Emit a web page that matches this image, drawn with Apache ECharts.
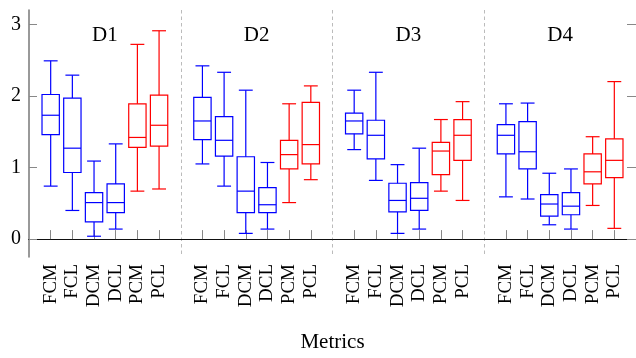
<!DOCTYPE html>
<html>
<head>
<meta charset="utf-8">
<script src="https://cdn.jsdelivr.net/npm/echarts@6/dist/echarts.min.js"></script>
<style>
html,body{margin:0;padding:0;background:#fff;}
#chart{width:636px;height:358px;}
</style>
</head>
<body>
<div id="chart"></div>
<script>
// ---- data ----
const groupNames = ['D1', 'D2', 'D3', 'D4'];
const metricNames = ['FCM', 'FCL', 'DCM', 'DCL', 'PCM', 'PCL'];
const yTickValues = [0, 1, 2, 3];
const xTitle = 'Metrics';
// each box: [lower whisker, Q1, median, Q3, upper whisker]
const boxesD1 = [
  [0.74, 1.46, 1.73, 2.02, 2.49],
  [0.40, 0.93, 1.27, 1.97, 2.29],
  [0.04, 0.24, 0.51, 0.65, 1.09],
  [0.14, 0.37, 0.51, 0.77, 1.33],
  [0.67, 1.28, 1.42, 1.89, 2.72],
  [0.70, 1.30, 1.59, 2.01, 2.91]
];
const boxesD2 = [
  [1.05, 1.39, 1.65, 1.98, 2.42],
  [0.74, 1.16, 1.38, 1.71, 2.33],
  [0.08, 0.37, 0.67, 1.15, 2.08],
  [0.14, 0.37, 0.48, 0.72, 1.07],
  [0.51, 0.98, 1.18, 1.38, 1.89],
  [0.83, 1.05, 1.32, 1.91, 2.14]
];
const boxesD3 = [
  [1.25, 1.47, 1.65, 1.76, 2.08],
  [0.82, 1.12, 1.45, 1.66, 2.33],
  [0.08, 0.38, 0.54, 0.78, 1.04],
  [0.14, 0.40, 0.57, 0.79, 1.27],
  [0.67, 0.90, 1.23, 1.35, 1.67],
  [0.54, 1.10, 1.45, 1.67, 1.92]
];
const boxesD4 = [
  [0.59, 1.19, 1.45, 1.60, 1.89],
  [0.56, 0.98, 1.22, 1.64, 1.90],
  [0.20, 0.32, 0.49, 0.62, 0.92],
  [0.14, 0.34, 0.46, 0.65, 0.98],
  [0.47, 0.77, 0.94, 1.19, 1.43],
  [0.15, 0.86, 1.10, 1.40, 2.20]
];
const boxColors = ['#0000ff', '#0000ff', '#0000ff', '#0000ff', '#ff0000', '#ff0000'];
const groupLabelY = 2.845;

// ---- build category axis & series data ----
const allGroups = [boxesD1, boxesD2, boxesD3, boxesD4];
const categories = [''];
const blueData = [], redData = [], labelData = [];
allGroups.forEach((g, gi) => {
  const start = categories.length;
  g.forEach((b, mi) => {
    const idx = categories.length;
    categories.push(metricNames[mi]);
    const item = [idx].concat(b);
    (boxColors[mi] === '#ff0000' ? redData : blueData).push(item);
  });
  labelData.push([start, start + metricNames.length - 1, groupLabelY, groupNames[gi]]);
  categories.push('');
});
const separators = [];
categories.forEach((c, i) => { if (c === '' && i > 0 && i < categories.length - 1) separators.push(i); });

function boxRenderer(color) {
  return function (params, api) {
    const x = api.value(0);
    const lo = api.coord([x, api.value(1)]);
    const q1 = api.coord([x, api.value(2)]);
    const md = api.coord([x, api.value(3)]);
    const q3 = api.coord([x, api.value(4)]);
    const hi = api.coord([x, api.value(5)]);
    const band = api.coord([x + 1, api.value(1)])[0] - lo[0];
    const bw = band * 0.8, cw = band * 0.64;
    const cx = lo[0];
    const st = { stroke: color, lineWidth: 1.2, fill: null };
    return {
      type: 'group',
      children: [
        { type: 'rect', shape: { x: cx - bw / 2, y: q3[1], width: bw, height: q1[1] - q3[1] }, style: { stroke: color, lineWidth: 1.2, fill: 'rgba(255,255,255,0)' } },
        { type: 'line', shape: { x1: cx - bw / 2, y1: md[1], x2: cx + bw / 2, y2: md[1] }, style: st },
        { type: 'line', shape: { x1: cx, y1: q1[1], x2: cx, y2: lo[1] }, style: st },
        { type: 'line', shape: { x1: cx, y1: q3[1], x2: cx, y2: hi[1] }, style: st },
        { type: 'line', shape: { x1: cx - cw / 2, y1: lo[1], x2: cx + cw / 2, y2: lo[1] }, style: st },
        { type: 'line', shape: { x1: cx - cw / 2, y1: hi[1], x2: cx + cw / 2, y2: hi[1] }, style: st }
      ]
    };
  };
}

const font = 'Liberation Serif';
const chart = echarts.init(document.getElementById('chart'), null, { renderer: 'canvas' });
chart.setOption({
  animation: false,
  backgroundColor: '#fff',
  grid: { left: 29, right: -6, top: 10, bottom: 88, containLabel: false },
  xAxis: [{
    type: 'category',
    data: categories,
    boundaryGap: false,
    name: xTitle,
    nameLocation: 'middle',
    nameGap: 75,
    nameTextStyle: { fontFamily: font, fontSize: 21, color: '#000' },
    axisLine: { show: true, lineStyle: { color: '#222', width: 1 } },
    axisTick: { show: true, inside: true, length: 9, lineStyle: { color: '#888' }, interval: (i) => categories[i] !== '' },
    axisLabel: { interval: 0, rotate: 90, margin: 7, fontFamily: font, fontSize: 19, color: '#000' },
    splitLine: { show: true, interval: (i) => separators.indexOf(i) >= 0, lineStyle: { color: '#bbb', type: [3.5, 3], width: 1 } }
  }, {
    type: 'category',
    data: categories,
    boundaryGap: false,
    position: 'top',
    axisLine: { show: true, lineStyle: { color: '#111', width: 1 } },
    axisTick: { show: false },
    axisLabel: { show: false },
    splitLine: { show: false }
  }],
  yAxis: [{
    type: 'value',
    min: -0.25,
    max: 3.2,
    axisLine: { show: true, lineStyle: { color: '#777', width: 1.5 } },
    axisTick: { show: true, inside: true, length: 8, customValues: yTickValues, lineStyle: { color: '#888' } },
    axisLabel: { customValues: yTickValues, margin: 8, fontFamily: font, fontSize: 20, color: '#000' },
    splitLine: { show: false }
  }, {
    type: 'value',
    min: -0.25,
    max: 3.2,
    position: 'right',
    axisLine: { show: true, lineStyle: { color: '#222', width: 1 } },
    axisTick: { show: true, inside: true, length: 9, customValues: yTickValues, lineStyle: { color: '#888' } },
    axisLabel: { show: false },
    splitLine: { show: false }
  }],
  series: [
    { type: 'custom', name: 'blue', data: blueData, encode: { x: 0, y: [1, 2, 3, 4, 5] }, renderItem: boxRenderer('#0000ff'), clip: false },
    { type: 'custom', name: 'red', data: redData, encode: { x: 0, y: [1, 2, 3, 4, 5] }, renderItem: boxRenderer('#ff0000'), clip: false },
    {
      type: 'custom', name: 'groups', data: labelData, encode: { x: 0, y: 2 },
      renderItem: function (params, api) {
        const a = api.coord([api.value(0), api.value(2)]);
        const b = api.coord([api.value(1), api.value(2)]);
        return {
          type: 'text',
          style: { x: (a[0] + b[0]) / 2, y: a[1], text: labelData[params.dataIndex][3], fill: '#000', font: '21px "Liberation Serif"', textAlign: 'center', textVerticalAlign: 'middle' }
        };
      }
    }
  ]
});
</script>
</body>
</html>
